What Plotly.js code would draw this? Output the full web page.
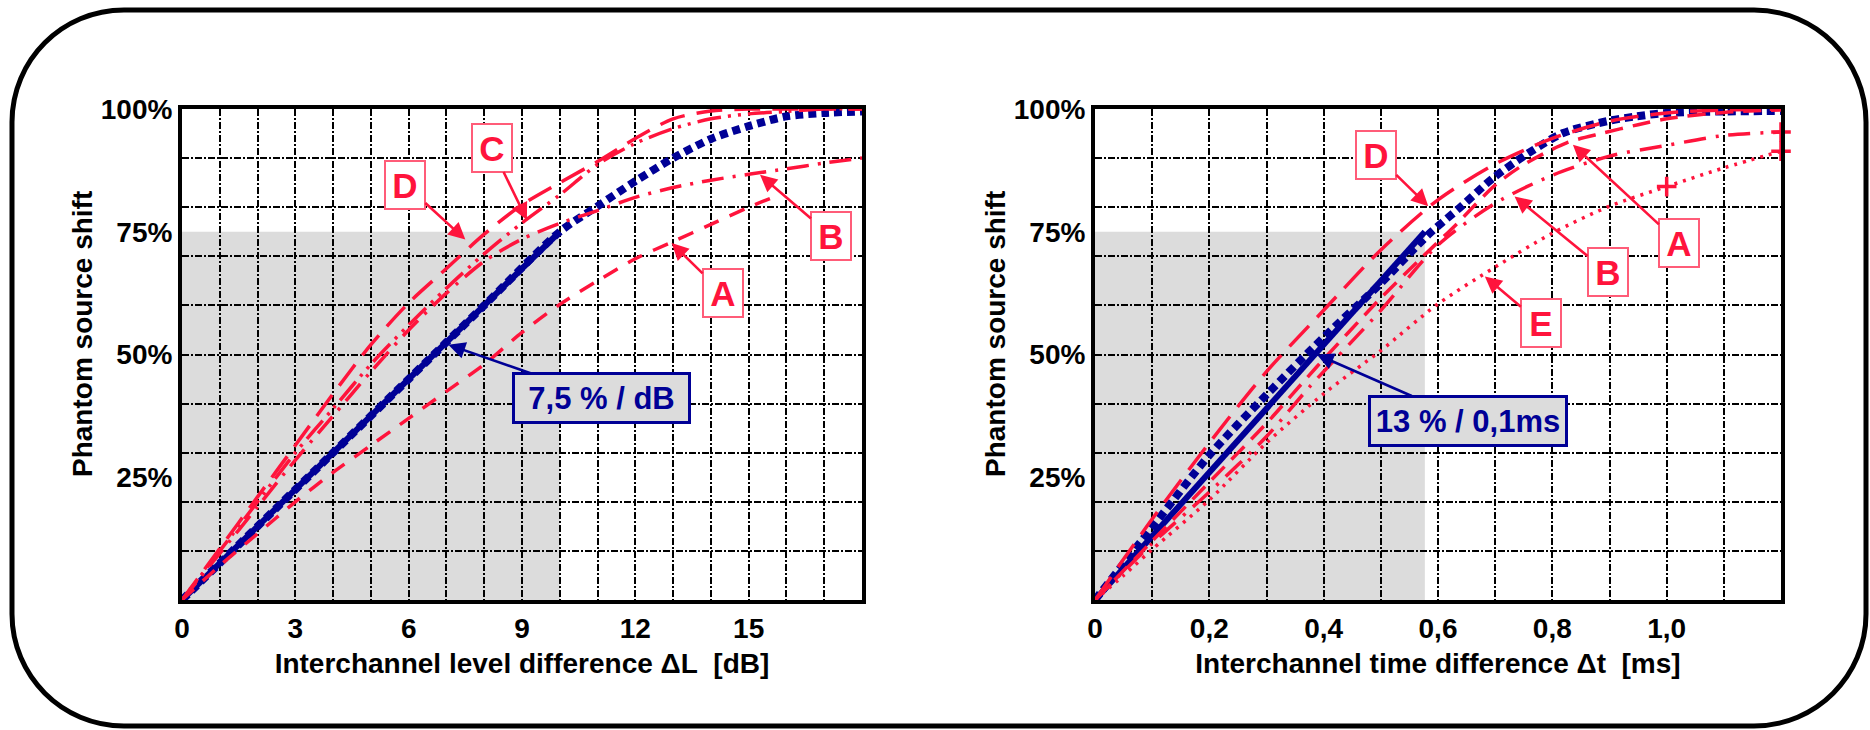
<!DOCTYPE html>
<html><head><meta charset="utf-8">
<script src="https://cdn.plot.ly/plotly-3.0.1.min.js"></script>
<style>html,body{margin:0;padding:0;background:#fff;}#chart{width:1870px;height:730px;}</style>
</head><body><div id="chart"></div>
<script>
// ---------------- DATA ----------------
// Left panel: interchannel level difference [dB] -> phantom source shift [%]
const levelTickVals = [0, 3, 6, 9, 12, 15];
const levelTickText = ['0', '3', '6', '9', '12', '15'];
const shiftTickVals = [25, 50, 75, 100];
const shiftTickText = ['25%', '50%', '75%', '100%'];
const shiftTitle = 'Phantom source shift';

const levelBlueSolidX = [0, 10];
const levelBlueSolidY = [0, 75];
const levelBlueDotX = [0, 2, 4, 6, 8, 10, 11, 12, 13, 14, 15, 16, 17, 18];
const levelBlueDotY = [0, 15, 30, 45, 60, 75, 80.2, 85.3, 90, 93.9, 96.5, 98.5, 99.2, 99.5];
const levelAX = [0, 1, 2, 3, 4, 5, 6, 7, 8, 9, 10, 11, 12, 13, 14, 15, 15.8];
const levelAY = [0, 7, 13.5, 20, 26, 31.5, 37, 42.5, 48, 54.5, 60.2, 65, 69.5, 73, 76.5, 80, 82.5];
const levelBX = [0, 1, 2, 3, 4, 5, 6, 7, 8, 9, 10, 11, 12, 13, 14, 15, 16, 17, 18];
const levelBY = [0, 9.5, 19, 28.5, 37.5, 46.5, 55, 62.5, 69, 73.5, 76.7, 79.3, 82, 84, 85.5, 86.7, 87.8, 89, 90];
const levelCX = [0, 1, 2, 3, 4, 5, 6, 7, 8, 9, 10, 11, 12, 13, 14, 15, 16, 17, 18];
const levelCY = [0, 10, 20, 30, 39, 48, 56, 63.5, 70.5, 76.8, 82.5, 88.7, 93, 96, 98, 99, 99.5, 100, 100];
const levelDX = [0, 1, 2, 3, 4, 5, 6, 7, 8, 9, 10, 11, 12, 13, 14, 15, 16, 17, 18];
const levelDY = [0, 10.5, 21, 31.5, 42, 52, 60.5, 67.5, 74.5, 80.5, 85, 89.3, 94, 98, 99.6, 100, 100, 100, 100];

// Right panel: interchannel time difference [ms] -> phantom source shift [%]
const timeTickVals = [0, 0.2, 0.4, 0.6, 0.8, 1.0];
const timeTickText = ['0', '0,2', '0,4', '0,6', '0,8', '1,0'];

const timeBlueSolidX = [0, 0.577];
const timeBlueSolidY = [0, 75];
const timeBlueDotX = [0, 0.1, 0.2, 0.3, 0.4, 0.5, 0.583, 0.641, 0.696, 0.758, 0.819, 0.895, 0.947, 1.0, 1.1, 1.2];
const timeBlueDotY = [0, 14.8, 29.5, 41.8, 53.5, 64.5, 74.4, 80.2, 85.9, 91, 95.1, 97.5, 98.5, 99.2, 99.5, 99.6];
const timeAX = [0, 0.1, 0.2, 0.3, 0.388, 0.5, 0.574, 0.632, 0.7, 0.749, 0.825, 0.889, 0.95, 1.0, 1.1, 1.2];
const timeAY = [0, 12, 24, 36, 47.5, 61.5, 70, 76.5, 84.5, 88.6, 93.1, 95.1, 96.8, 98, 99.3, 99.8];
const timeBX = [0, 0.1, 0.2, 0.3, 0.376, 0.5, 0.6, 0.7, 0.8, 0.9, 1.0, 1.1, 1.2];
const timeBY = [0, 11.5, 22, 33.3, 43.5, 59, 72.3, 80.8, 86.5, 90.4, 92.6, 94.6, 95.3];
const timeDX = [0, 0.1, 0.2, 0.3, 0.4, 0.5, 0.6, 0.7, 0.8, 0.9, 1.0, 1.1, 1.2];
const timeDY = [0, 16.5, 32, 46.5, 59, 71.3, 81.5, 88.8, 94, 97.5, 99.2, 99.8, 100];
const timeEX = [0, 0.05, 0.1, 0.2, 0.3, 0.4, 0.5, 0.6, 0.7, 0.8, 0.9, 1.0, 1.1, 1.2];
const timeEY = [0, 5, 10.3, 20.4, 32, 42, 50.8, 60.3, 67.8, 74.7, 80.2, 84.2, 88, 91.4];

// Callout labels
const levelLabels = ['D', 'C', 'A', 'B'];
const levelLabelTipX = [7.5, 9.13, 12.96, 15.3];
const levelLabelTipY = [73.4, 77.4, 72.7, 86.6];
const timeLabels = ['D', 'A', 'B', 'E'];
const timeLabelTipX = [0.583, 0.836, 0.734, 0.682];
const timeLabelTipY = [80.2, 92.7, 82.2, 65.9];
const levelSlopeText = '7,5 % / dB';
const levelSlopeTip = [7.05, 52];
const timeSlopeText = '13 % / 0,1ms';
const timeSlopeTip = [0.388, 50];

// ---------------- STYLE ----------------
const RED = '#ff143c', PINK = '#ff5c78', NAVY = '#000096', GRAY = '#dcdcdc';
const FONT = '"Liberation Sans", Arial, Helvetica, sans-serif';
const W = 1870, H = 730, ML = 182, MR = 89, MT = 109, MB = 130;
const PW = W - ML - MR, PH = H - MT - MB;

function line(x, y, xa, ya, color, width, dash, shape) {
  return {x: x, y: y, xaxis: xa, yaxis: ya, type: 'scatter', mode: 'lines',
    line: {color: color, width: width, dash: dash, shape: shape || 'spline', smoothing: 0.8},
    hoverinfo: 'skip', showlegend: false};
}

const traces = [
  line(levelBlueDotX, levelBlueDotY, 'x', 'y', NAVY, 8, '8px,5px'),
  line(levelBlueSolidX, levelBlueSolidY, 'x', 'y', NAVY, 6, 'solid', 'linear'),
  line(levelAX, levelAY, 'x', 'y', RED, 3.5, '16px,12px'),
  line(levelBX, levelBY, 'x', 'y', RED, 3.5, '22px,9px,3px,9px'),
  line(levelCX, levelCY, 'x', 'y', RED, 3.5, '24px,7px,3px,7px,3px,7px'),
  line(levelDX, levelDY, 'x', 'y', RED, 3.5, '26px,12px'),

  line(timeBlueDotX, timeBlueDotY, 'x2', 'y2', NAVY, 8, '8px,5px'),
  line(timeBlueSolidX, timeBlueSolidY, 'x2', 'y2', NAVY, 6, 'solid', 'linear'),
  line(timeAX, timeAY, 'x2', 'y2', RED, 3.5, '18px,10px'),
  line(timeBX, timeBY, 'x2', 'y2', RED, 3.5, '22px,10px,3px,10px'),
  line(timeDX, timeDY, 'x2', 'y2', RED, 3.5, '28px,12px'),
  line(timeEX, timeEY, 'x2', 'y2', RED, 3.5, '3px,6px'),
  {x: [timeBX[timeBX.length - 1], timeEX[11], timeEX[13]],
   y: [timeBY[timeBY.length - 1], timeEY[11], timeEY[13]],
   xaxis: 'x2', yaxis: 'y2', type: 'scatter', mode: 'markers', cliponaxis: false,
   marker: {symbol: 'cross-thin', size: 14, line: {color: RED, width: 3.5}},
   hoverinfo: 'skip', showlegend: false}
];

const gridCommon = {showgrid: true, gridcolor: '#000', gridwidth: 2, griddash: '7px,2px,2px,2px'};
const tickFont = {family: FONT, size: 28, color: '#000', weight: 'bold'};
const titleFont = {family: FONT, size: 28, color: '#000', weight: 'bold'};
const axisLine = {showline: true, mirror: true, linecolor: '#000', linewidth: 4, zeroline: false, ticks: '', fixedrange: true};

function xAxis(domain, range, tv, tt, minorStep, title) {
  return Object.assign({}, axisLine, gridCommon, {
    domain: domain, range: range, tickmode: 'array', tickvals: tv, ticktext: tt, tickfont: tickFont,
    minor: Object.assign({tickmode: 'linear', tick0: 0, dtick: minorStep, ticks: ''}, gridCommon),
    title: {text: title, font: titleFont, standoff: 12}
  });
}
function yAxis(anchor) {
  return Object.assign({}, axisLine, {
    anchor: anchor, domain: [0, 1], range: [0, 100], tickmode: 'array', tickvals: shiftTickVals, ticktext: shiftTickText,
    tickfont: tickFont, showgrid: false,
    minor: Object.assign({tickmode: 'linear', tick0: 0, dtick: 10, ticks: ''}, gridCommon)
  });
}

// rounded frame (pixel -> paper)
function px(X) { return (X - ML) / PW; }
function py(Y) { return (H - MB - Y) / PH; }
function roundedFrame(x0, y0, x1, y1, r) {
  const k = 0.5523 * r;
  const P = (X, Y) => px(X) + ',' + py(Y);
  return 'M' + P(x0 + r, y0) + ' L' + P(x1 - r, y0) +
    ' C' + P(x1 - r + k, y0) + ' ' + P(x1, y0 + r - k) + ' ' + P(x1, y0 + r) +
    ' L' + P(x1, y1 - r) +
    ' C' + P(x1, y1 - r + k) + ' ' + P(x1 - r + k, y1) + ' ' + P(x1 - r, y1) +
    ' L' + P(x0 + r, y1) +
    ' C' + P(x0 + r - k, y1) + ' ' + P(x0, y1 - r + k) + ' ' + P(x0, y1 - r) +
    ' L' + P(x0, y0 + r) +
    ' C' + P(x0, y0 + r - k) + ' ' + P(x0 + r - k, y0) + ' ' + P(x0 + r, y0) + ' Z';
}

const shapes = [
  {type: 'rect', xref: 'x', yref: 'y', x0: 0, x1: levelBlueSolidX[1], y0: 0, y1: levelBlueSolidY[1],
   fillcolor: GRAY, line: {width: 0}, layer: 'below'},
  {type: 'rect', xref: 'x2', yref: 'y2', x0: 0, x1: timeBlueSolidX[1], y0: 0, y1: timeBlueSolidY[1],
   fillcolor: GRAY, line: {width: 0}, layer: 'below'},
  {type: 'path', xref: 'paper', yref: 'paper', path: roundedFrame(12, 10, 1866, 726, 112),
   line: {color: '#000', width: 5}, fillcolor: 'rgba(0,0,0,0)', layer: 'above'}
];

// callout offsets (pixels from tip to box centre)
const levelLabelAX = [-60, -35, 51, 71], levelLabelAY = [-55, -72, 50, 61];
const timeLabelAX = [-52, 106, 93, 56], timeLabelAY = [-51, 98, 76, 47];

function letterBox(t, x, y, xr, yr, ax, ay) {
  return {text: '<b>' + t + '</b>', x: x, y: y, xref: xr, yref: yr, ax: ax, ay: ay,
    showarrow: true, arrowhead: 2, arrowsize: 1.3, arrowwidth: 2.6, arrowcolor: RED,
    font: {family: FONT, size: 35, color: RED}, bgcolor: '#fff', bordercolor: PINK, borderwidth: 2,
    width: 38, height: 46, borderpad: 0};
}
function slopeBox(t, tip, xr, yr, ax, ay, w) {
  return {text: '<b>' + t + '</b>', x: tip[0], y: tip[1], xref: xr, yref: yr, ax: ax, ay: ay,
    showarrow: true, arrowhead: 2, arrowsize: 1.3, arrowwidth: 2.6, arrowcolor: NAVY,
    font: {family: FONT, size: 31, color: NAVY}, bgcolor: GRAY, bordercolor: NAVY, borderwidth: 3,
    width: w, height: 46, borderpad: 0};
}
function yTitle(xPix) {
  return {text: '<b>' + shiftTitle + '</b>', xref: 'paper', yref: 'paper', x: px(xPix), y: py(334),
    xanchor: 'center', yanchor: 'middle', textangle: -90, showarrow: false,
    font: {family: FONT, size: 28, color: '#000'}};
}

const annotations = [];
levelLabels.forEach((t, i) => annotations.push(letterBox(t, levelLabelTipX[i], levelLabelTipY[i], 'x', 'y', levelLabelAX[i], levelLabelAY[i])));
timeLabels.forEach((t, i) => annotations.push(letterBox(t, timeLabelTipX[i], timeLabelTipY[i], 'x2', 'y2', timeLabelAX[i], timeLabelAY[i])));
annotations.push(slopeBox(levelSlopeText, levelSlopeTip, 'x', 'y', 153, 53, 173));
annotations.push(slopeBox(timeSlopeText, timeSlopeTip, 'x2', 'y2', 151, 66, 194));
annotations.push(yTitle(82));
annotations.push(yTitle(995));

const layout = {
  width: W, height: H, margin: {l: ML, r: MR, t: MT, b: MB},
  paper_bgcolor: '#fff', plot_bgcolor: '#fff', showlegend: false,
  font: {family: FONT, color: '#000'},
  xaxis: xAxis([0, (862 - ML) / PW], [0, 18], levelTickVals, levelTickText, 1, 'Interchannel level difference \u0394L\u00a0 [dB]'),
  xaxis2: xAxis([(1095 - ML) / PW, 1], [0, 1.2], timeTickVals, timeTickText, 0.1, 'Interchannel time difference \u0394t\u00a0 [ms]'),
  yaxis: yAxis('x'),
  yaxis2: yAxis('x2'),
  shapes: shapes,
  annotations: annotations
};
layout.xaxis.anchor = 'y';
layout.xaxis2.anchor = 'y2';

Plotly.newPlot('chart', traces, layout, {staticPlot: true, displayModeBar: false});
</script></body></html>
